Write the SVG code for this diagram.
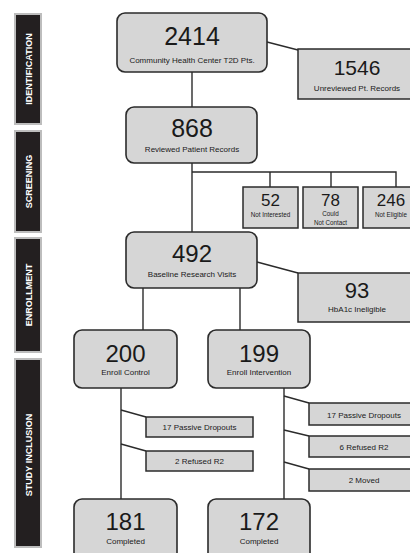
<svg xmlns="http://www.w3.org/2000/svg" width="410" height="553" viewBox="0 0 410 553">
<style>
.bar{fill:#231f20;stroke:#bdbdbd;stroke-width:2}
.lbl{font-family:"Liberation Sans",Arial,sans-serif;font-weight:bold;font-size:9px;fill:#fff;text-anchor:middle}
.rn{fill:#d6d6d6;stroke:#2b2b2b;stroke-width:1.6}
.bx{fill:#d6d6d6;stroke:#2b2b2b;stroke-width:1.5}
.num{font-family:"Liberation Sans",Arial,sans-serif;fill:#1a1a1a;text-anchor:middle}
.sub{font-family:"Liberation Sans",Arial,sans-serif;font-size:8px;fill:#1a1a1a;text-anchor:middle}
.tiny{font-family:"Liberation Sans",Arial,sans-serif;font-size:6.3px;fill:#1a1a1a;text-anchor:middle}
.c{fill:none;stroke:#2b2b2b;stroke-width:1.4}
</style>
<rect width="410" height="553" fill="#fff"/>
<g id="phases">
<g id="phase-identification"><rect class="bar" x="15" y="14" width="26" height="110"/><text class="lbl" transform="translate(28.5,69) rotate(-90)" y="3.2">IDENTIFICATION</text></g>
<g id="phase-screening"><rect class="bar" x="15" y="131" width="26" height="101"/><text class="lbl" transform="translate(28.5,181.5) rotate(-90)" y="3.2">SCREENING</text></g>
<g id="phase-enrollment"><rect class="bar" x="15" y="238" width="26" height="114"/><text class="lbl" transform="translate(28.5,295) rotate(-90)" y="3.2">ENROLLMENT</text></g>
<g id="phase-inclusion"><rect class="bar" x="15" y="359" width="26" height="188"/><text class="lbl" transform="translate(28.5,455) rotate(-90)" y="3.2">STUDY INCLUSION</text></g>
</g>
<g id="connectors">
<line class="c" x1="267" y1="42" x2="298" y2="50"/>
<line class="c" x1="192" y1="72" x2="192" y2="107"/>
<line class="c" x1="192" y1="163" x2="192" y2="232"/>
<polyline class="c" points="192,172 396,172 396,187"/>
<line class="c" x1="270" y1="172" x2="270" y2="187"/>
<line class="c" x1="331" y1="172" x2="331" y2="187"/>
<line class="c" x1="257" y1="262" x2="298" y2="273"/>
<line class="c" x1="143" y1="288" x2="143" y2="330"/>
<line class="c" x1="240" y1="288" x2="240" y2="330"/>
<line class="c" x1="121" y1="388" x2="121" y2="499"/>
<line class="c" x1="121" y1="410" x2="146" y2="417"/>
<line class="c" x1="121" y1="444" x2="146" y2="451"/>
<line class="c" x1="284" y1="388" x2="284" y2="499"/>
<line class="c" x1="284" y1="396" x2="309" y2="403"/>
<line class="c" x1="284" y1="430" x2="309" y2="436"/>
<line class="c" x1="284" y1="462" x2="309" y2="469"/>
</g>
<g id="n2414"><rect class="rn" x="117" y="13" width="150" height="59" rx="8"/><text class="num" x="192" y="45" font-size="25">2414</text><text class="sub" x="192" y="63">Community Health Center T2D Pts.</text></g>
<g id="n1546"><rect class="bx" x="298" y="49" width="120" height="50"/><text class="num" x="357" y="75" font-size="21">1546</text><text class="sub" x="357" y="91">Unreviewed Pt. Records</text></g>
<g id="n868"><rect class="rn" x="126" y="107" width="131" height="56" rx="8"/><text class="num" x="192" y="137" font-size="25">868</text><text class="sub" x="192" y="152">Reviewed Patient Records</text></g>
<g id="n52"><rect class="bx" x="243" y="187" width="55" height="41"/><text class="num" x="270.5" y="206" font-size="17">52</text><text class="tiny" x="270.5" y="217">Not Interested</text></g>
<g id="n78"><rect class="bx" x="303" y="187" width="55" height="41"/><text class="num" x="330.5" y="206" font-size="17">78</text><text class="tiny" x="330.5" y="216">Could</text><text class="tiny" x="330.5" y="224.5">Not Contact</text></g>
<g id="n246"><rect class="bx" x="363" y="187" width="56" height="41"/><text class="num" x="391" y="206" font-size="17">246</text><text class="tiny" x="391" y="217">Not Eligible</text></g>
<g id="n492"><rect class="rn" x="126" y="232" width="131" height="56" rx="8"/><text class="num" x="192" y="262" font-size="24">492</text><text class="sub" x="192" y="277">Baseline Research Visits</text></g>
<g id="n93"><rect class="bx" x="298" y="273" width="120" height="49"/><text class="num" x="357" y="298" font-size="22">93</text><text class="sub" x="357" y="312">HbA1c Ineligible</text></g>
<g id="n200"><rect class="rn" x="74" y="330" width="103" height="58" rx="8"/><text class="num" x="125.5" y="362" font-size="24">200</text><text class="sub" x="125.5" y="375">Enroll Control</text></g>
<g id="n199"><rect class="rn" x="208" y="330" width="102" height="58" rx="8"/><text class="num" x="259" y="362" font-size="24">199</text><text class="sub" x="259" y="375">Enroll Intervention</text></g>
<g id="c17"><rect class="bx" x="146" y="417" width="107" height="20"/><text class="sub" x="199.5" y="430">17 Passive Dropouts</text></g>
<g id="c2"><rect class="bx" x="146" y="451" width="107" height="20"/><text class="sub" x="199.5" y="464">2 Refused R2</text></g>
<g id="i17"><rect class="bx" x="309" y="403" width="110" height="22"/><text class="sub" x="364" y="417.5">17 Passive Dropouts</text></g>
<g id="i6"><rect class="bx" x="309" y="436" width="110" height="21"/><text class="sub" x="364" y="449.5">6 Refused R2</text></g>
<g id="i2"><rect class="bx" x="309" y="469" width="110" height="22"/><text class="sub" x="364" y="483">2 Moved</text></g>
<g id="n181"><rect class="rn" x="74" y="499" width="103" height="66" rx="8"/><text class="num" x="125.5" y="530" font-size="24">181</text><text class="sub" x="125.5" y="544">Completed</text></g>
<g id="n172"><rect class="rn" x="208" y="499" width="102" height="66" rx="8"/><text class="num" x="259" y="530" font-size="24">172</text><text class="sub" x="259" y="544">Completed</text></g>
</svg>
